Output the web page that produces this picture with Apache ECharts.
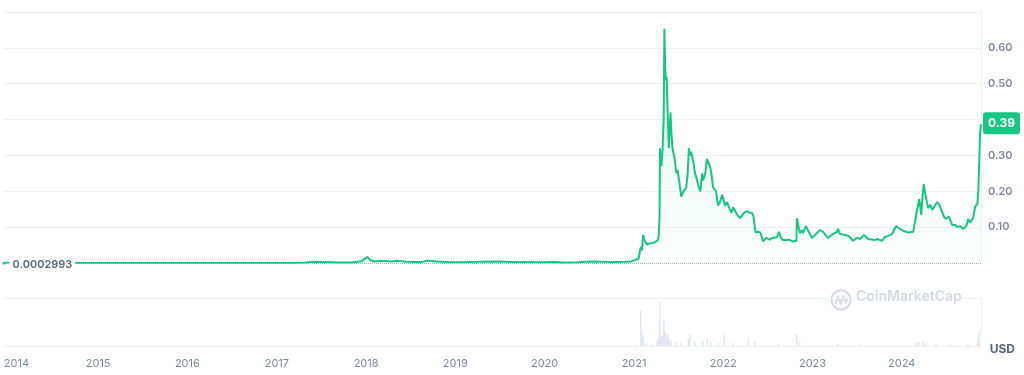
<!DOCTYPE html>
<html>
<head>
<meta charset="utf-8">
<script src="https://cdn.jsdelivr.net/npm/echarts@6/dist/echarts.min.js"></script>
<style>
html,body{margin:0;padding:0;background:#fff;}
#chart{width:1024px;height:375px;}
</style>
</head>
<body>
<div id="chart"></div>
<script>
// ---- DATA ----
const START_PRICE = 0.0002993;
const CURRENCY = 'USD';
const BRAND = 'CoinMarketCap';

const price2013_2020 = [
  ['2013-12-15',0.000299],['2013-12-19',0.0012],['2013-12-25',0.0006],['2014-01-20',0.0015],
  ['2014-02-20',0.0013],['2014-03-20',0.0006],['2014-05-01',0.0004],['2014-07-01',0.0002],
  ['2014-09-01',0.00025],['2014-11-01',0.0002],['2015-01-01',0.00015],['2015-06-01',0.00012],
  ['2015-12-01',0.00016],['2016-06-01',0.00025],['2016-12-01',0.00023],['2017-03-01',0.00032],
  ['2017-05-01',0.0013],['2017-06-05',0.0035],['2017-08-15',0.0022],['2017-09-15',0.0011],
  ['2017-11-01',0.0013],['2017-12-15',0.005],['2018-01-07',0.017],['2018-01-20',0.0075],
  ['2018-02-06',0.004],['2018-03-01',0.006],['2018-04-15',0.0045],['2018-05-05',0.0065],
  ['2018-06-15',0.0035],['2018-07-15',0.003],['2018-08-15',0.0025],['2018-09-10',0.007],
  ['2018-10-15',0.0045],['2018-12-15',0.002],['2019-02-01',0.0019],['2019-04-05',0.0032],
  ['2019-06-26',0.004],['2019-08-15',0.0026],['2019-10-15',0.0027],['2019-12-15',0.0021],
  ['2020-02-15',0.0029],['2020-03-13',0.0016],['2020-05-15',0.0024],['2020-07-08',0.0045],
  ['2020-08-15',0.0035],['2020-10-15',0.0026],['2020-11-25',0.0035],['2020-12-20',0.0045],
  ['2020-12-28',0.0047]
];
const price2021 = [
  ['2021-01-08',0.0095],['2021-01-18',0.011],['2021-01-26',0.0085],['2021-01-28',0.045],
  ['2021-02-01',0.035],['2021-02-06',0.078],['2021-02-10',0.068],['2021-02-14',0.06],
  ['2021-02-22',0.052],['2021-03-01',0.05],['2021-03-07',0.055],['2021-03-13',0.058],
  ['2021-03-19',0.056],['2021-03-27',0.055],['2021-04-05',0.062],['2021-04-10',0.07],
  ['2021-04-14',0.12],['2021-04-16',0.32],['2021-04-22',0.27],['2021-04-27',0.32],
  ['2021-05-01',0.40],['2021-05-04',0.654],['2021-05-07',0.55],['2021-05-10',0.51],
  ['2021-05-13',0.52],['2021-05-17',0.43],['2021-05-22',0.32],['2021-05-29',0.42],
  ['2021-06-02',0.36],['2021-06-06',0.32],['2021-06-15',0.29],['2021-06-22',0.25],
  ['2021-06-27',0.26],['2021-07-03',0.23],['2021-07-12',0.185],['2021-07-21',0.20],
  ['2021-08-01',0.21],['2021-08-07',0.25],['2021-08-12',0.32],['2021-08-16',0.30],
  ['2021-08-21',0.31],['2021-08-31',0.28],['2021-09-06',0.25],['2021-09-11',0.24],
  ['2021-09-22',0.21],['2021-09-28',0.20],['2021-10-05',0.25],['2021-10-09',0.23],
  ['2021-10-18',0.25],['2021-10-25',0.29],['2021-11-06',0.27],['2021-11-12',0.25],
  ['2021-11-19',0.21],['2021-12-01',0.20],['2021-12-09',0.16],['2021-12-17',0.17],
  ['2021-12-26',0.19]
];
const price2022 = [
  ['2022-01-07',0.16],['2022-01-15',0.17],['2022-02-01',0.14],['2022-02-09',0.155],
  ['2022-02-25',0.135],['2022-03-09',0.125],['2022-03-25',0.14],['2022-04-06',0.145],
  ['2022-04-16',0.14],['2022-04-27',0.14],['2022-05-03',0.13],['2022-05-08',0.10],
  ['2022-05-12',0.085],['2022-05-21',0.087],['2022-05-31',0.085],['2022-06-11',0.06],
  ['2022-06-18',0.058],['2022-06-23',0.07],['2022-07-09',0.065],['2022-07-18',0.07],
  ['2022-07-26',0.07],['2022-08-07',0.072],['2022-08-15',0.087],['2022-08-23',0.07],
  ['2022-08-31',0.064],['2022-09-08',0.06],['2022-09-29',0.064],['2022-10-11',0.06],
  ['2022-10-25',0.062],['2022-10-27',0.125],['2022-10-31',0.12],['2022-11-08',0.083],
  ['2022-11-16',0.092],['2022-11-21',0.083],['2022-12-03',0.103],['2022-12-11',0.092],
  ['2022-12-27',0.07]
];
const price2023 = [
  ['2023-01-09',0.078],['2023-01-30',0.092],['2023-02-11',0.087],['2023-03-03',0.07],
  ['2023-03-24',0.081],['2023-04-09',0.087],['2023-04-13',0.095],['2023-04-21',0.081],
  ['2023-05-12',0.078],['2023-05-28',0.075],['2023-06-13',0.062],['2023-06-30',0.07],
  ['2023-07-12',0.067],['2023-07-28',0.078],['2023-08-14',0.067],['2023-08-20',0.064],
  ['2023-09-11',0.064],['2023-09-20',0.067],['2023-10-10',0.062],['2023-10-22',0.073],
  ['2023-11-03',0.075],['2023-11-20',0.081],['2023-12-06',0.103],['2023-12-22',0.095]
];
const price2024 = [
  ['2024-01-04',0.09],['2024-01-25',0.085],['2024-02-14',0.087],['2024-02-22',0.09],
  ['2024-03-01',0.148],['2024-03-10',0.178],['2024-03-18',0.134],['2024-03-22',0.176],
  ['2024-03-28',0.22],['2024-04-03',0.195],['2024-04-11',0.19],['2024-04-15',0.153],
  ['2024-04-24',0.162],['2024-05-02',0.148],['2024-05-10',0.153],['2024-05-22',0.17],
  ['2024-05-31',0.162],['2024-06-16',0.134],['2024-06-24',0.123],['2024-07-02',0.12],
  ['2024-07-10',0.129],['2024-07-22',0.106],['2024-08-04',0.106],['2024-08-12',0.10],
  ['2024-08-24',0.103],['2024-09-05',0.095],['2024-09-18',0.103],['2024-09-26',0.123],
  ['2024-10-04',0.112],['2024-10-16',0.126],['2024-10-24',0.157],['2024-11-02',0.165],
  ['2024-11-06',0.20],['2024-11-10',0.29],['2024-11-13',0.36],['2024-11-17',0.387]
];
// trading volume (billions USD, visual estimate)
const volume = [
  ['2020-12-20',0.3],['2021-01-10',1],['2021-01-28',45],['2021-01-31',19],['2021-02-05',10],
  ['2021-02-08',14],['2021-02-20',4],['2021-03-15',2],['2021-04-05',5],['2021-04-10',9],
  ['2021-04-14',13],['2021-04-17',55],['2021-04-20',12],['2021-04-25',10],['2021-04-28',14],
  ['2021-05-03',32],['2021-05-08',18],['2021-05-12',12],['2021-05-19',15],['2021-05-24',9],
  ['2021-06-02',7],['2021-06-20',5],['2021-07-10',4],['2021-08-12',8],['2021-08-16',14],
  ['2021-09-07',6],['2021-10-10',7],['2021-10-28',9],['2021-11-10',5],['2021-12-10',4],
  ['2022-01-05',16],['2022-02-10',4],['2022-04-14',9],['2022-05-10',5],['2022-08-15',3],
  ['2022-10-28',15],['2022-11-10',5],['2023-04-14',3],['2023-07-15',2],['2024-02-28',4],
  ['2024-03-10',5],['2024-03-28',6],['2024-04-10',4],['2024-05-20',3],['2024-07-15',2],
  ['2024-09-28',3],['2024-11-06',8],['2024-11-12',17]
];

// ---- build ----
function ts(s){ const p=s.split('-').map(Number); return new Date(p[0],p[1]-1,p[2]).getTime(); }
const priceData = [].concat(price2013_2020, price2021, price2022, price2023, price2024).map(d => [ts(d[0]), d[1]]);
const volData = volume.map(d => [ts(d[0]), d[1]]);
const X_MIN = priceData[0][0];
const X_MAX = priceData[priceData.length-1][0];
const LAST = priceData[priceData.length-1][1];
const DAY = 86400000;

const GREEN = '#16c784';
const GRID_LINE = '#eff2f5';
const FONT = 'Inter';

const chart = echarts.init(document.getElementById('chart'), null, {renderer:'canvas'});
chart.setOption({
  animation:false,
  backgroundColor:'#ffffff',
  title:[{
    text: CURRENCY, right: 4, top: 338,
    textStyle:{fontFamily:FONT, fontSize:12, fontWeight:700, color:'#58667e'}
  }],
  grid:[
    {left:4, right:43, top:12, height:251},
    {left:4, right:43, top:298, height:48}
  ],
  xAxis:[
    {type:'time', gridIndex:0, min:X_MIN, max:X_MAX, show:false},
    {type:'time', gridIndex:1, min:X_MIN, max:X_MAX, splitNumber:11,
      minInterval:365*DAY, maxInterval:366*DAY,
      axisLine:{show:false}, axisTick:{show:false}, splitLine:{show:false},
      axisLabel:{
        margin:12, color:'#808a9d', fontSize:11, fontFamily:FONT,
        formatter:function(v){ const y=new Date(v).getFullYear(); return y===2014 ? '{f|'+y+'}' : String(y); },
        rich:{f:{padding:[0,0,0,15], color:'#808a9d', fontSize:11, fontFamily:FONT}}
      }}
  ],
  yAxis:[
    {type:'value', gridIndex:0, position:'right', min:0, max:0.7, interval:0.1,
      axisLine:{show:true, lineStyle:{color:GRID_LINE}}, axisTick:{show:false},
      splitLine:{show:true, showMinLine:false, lineStyle:{color:GRID_LINE}},
      axisLabel:{margin:7, color:'#808a9d', fontSize:11, fontWeight:600, fontFamily:FONT,
        formatter:function(v){ const r=Math.round(v*100)/100; return (r<=0||r>=0.7)?'':r.toFixed(2); }}
    },
    {type:'value', gridIndex:1, position:'right', min:0, max:60, interval:60,
      axisLine:{show:true, lineStyle:{color:GRID_LINE}}, axisTick:{show:false},
      axisLabel:{show:false}, splitLine:{show:true, lineStyle:{color:GRID_LINE}}
    }
  ],
  graphic:[
    {type:'group', left:829, top:288, silent:true, z:10, children:[
      {type:'circle', shape:{cx:10, cy:10, r:9.5}, style:{fill:'none', stroke:'#d5dae2', lineWidth:2}},
      {type:'polyline', shape:{points:[[4,14],[7,7],[9.5,13],[12.5,7],[15,12],[16.5,9]]}, style:{fill:'none', stroke:'#d5dae2', lineWidth:2}}
    ]},
    {type:'text', left:856, top:290, silent:true, z:10,
      style:{text:BRAND, fill:'#d5dae2', font:'600 14px Inter'}}
  ],
  series:[
    {
      type:'line', name:'price', xAxisIndex:0, yAxisIndex:0, data:priceData,
      showSymbol:false, symbol:'none', smooth:false,
      lineStyle:{color:GREEN, width:2}, itemStyle:{color:GREEN},
      areaStyle:{color:new echarts.graphic.LinearGradient(0,0,0,1,[
        {offset:0, color:'rgba(22,199,132,0.16)'},
        {offset:1, color:'rgba(22,199,132,0.02)'}
      ])},
      markLine:{
        silent:true, symbol:['none','none'],
        data:[
          {yAxis:START_PRICE, lineStyle:{type:'dotted', color:'#a6b0c3', width:1}, label:{show:false}},
          {yAxis:LAST, lineStyle:{color:'rgba(0,0,0,0)', width:1}, label:{
            show:true, position:'end', distance:2, formatter:LAST.toFixed(2),
            backgroundColor:GREEN, color:'#ffffff', fontFamily:FONT, fontSize:12, fontWeight:700,
            padding:[5,5,5,5], borderRadius:3, opacity:1
          }}
        ]
      },
      markPoint:{
        silent:true,
        data:[{coord:[X_MIN, START_PRICE], symbol:'circle', symbolSize:3, itemStyle:{color:GREEN},
          label:{show:true, position:'right', distance:4, offset:[0,2], formatter:String(START_PRICE),
            backgroundColor:'#fff', color:'#58667e', fontFamily:FONT, fontSize:11, fontWeight:600, padding:[2,3]}}]
      }
    },
    {
      type:'bar', name:'volume', xAxisIndex:1, yAxisIndex:1, data:volData,
      barWidth:1.5, itemStyle:{color:'#e2e6ed'}, silent:true
    }
  ]
});
</script>
</body>
</html>
